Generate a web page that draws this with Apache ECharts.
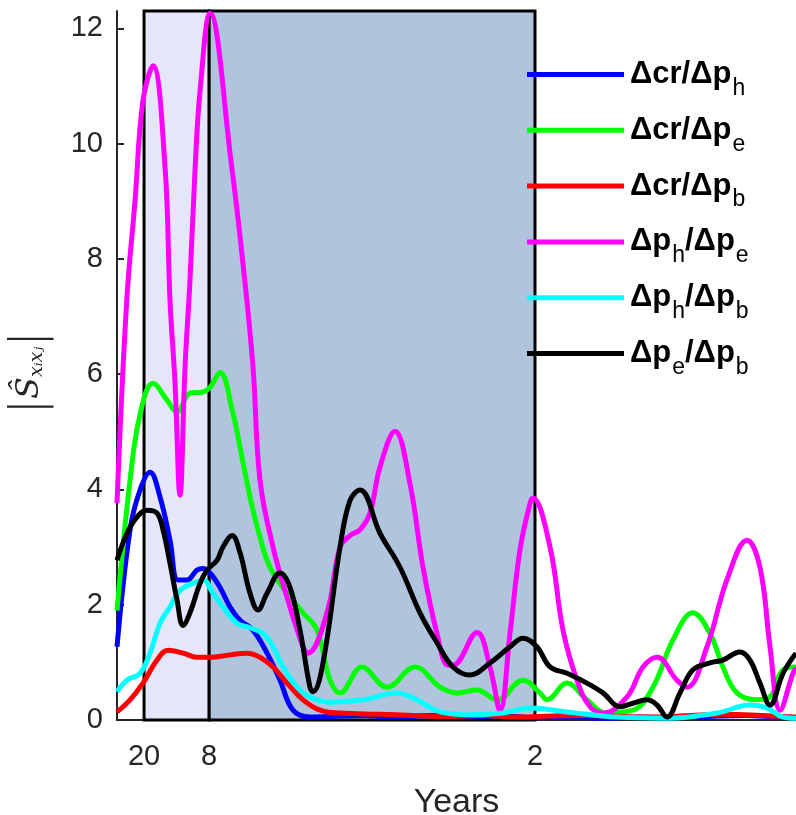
<!DOCTYPE html>
<html>
<head>
<meta charset="utf-8">
<script src="https://cdn.jsdelivr.net/npm/echarts@6/dist/echarts.min.js"></script>
<style>
html,body{margin:0;padding:0;background:#fff;}
#chart{width:796px;height:815px;}
</style>
</head>
<body>
<div id="chart"></div>
<script>
// x values: frequency in cycles per year; tick labels shown as periods (years)
const periods = [20, 8, 2];
const yTicks = [0, 2, 4, 6, 8, 10, 12];
const seriesNames = ['Δcr/Δp_h', 'Δcr/Δp_e', 'Δcr/Δp_b', 'Δp_h/Δp_e', 'Δp_h/Δp_b', 'Δp_e/Δp_b'];
const seriesColors = ['#0000FF', '#00FF00', '#FF0000', '#FF00FF', '#00FFFF', '#000000'];

const crPh = [[0.0189,1.27],[0.0339,3.3],[0.0454,3.99],[0.0569,4.3],[0.0684,3.87],[0.0799,3.12],[0.0891,2.43],[0.0995,2.43],[0.1110,2.6],[0.1179,2.63],[0.1260,2.55],[0.1375,2.3],[0.1490,1.96],[0.1605,1.73],[0.1754,1.56],[0.1916,1.16],[0.2065,0.69],[0.2215,0.17],[0.2410,0.05],[0.2641,0.06],[0.30,0.08],[0.34,0.05],[0.38,0.08],[0.42,0.05],[0.46,0.07],[0.50,0.04],[0.54,0.06],[0.58,0.03],[0.62,0.05],[0.66,0.04],[0.70,0.06],[0.74,0.08],[0.78,0.05],[0.8004,0.04]];

const crPe = [[0.0189,1.9],[0.0339,4.16],[0.0454,5.3],[0.0604,5.84],[0.0765,5.55],[0.0880,5.34],[0.1029,5.67],[0.1179,5.69],[0.1260,5.77],[0.1375,6.03],[0.1524,5.32],[0.1605,4.73],[0.1720,3.87],[0.1835,3.17],[0.1950,2.65],[0.2146,2.2],[0.2330,1.86],[0.2491,1.56],[0.2641,0.69],[0.2756,0.47],[0.3009,0.92],[0.3297,0.57],[0.3619,0.92],[0.3907,0.57],[0.4102,0.47],[0.4332,0.52],[0.4563,0.35],[0.4862,0.69],[0.5058,0.47],[0.5138,0.35],[0.5368,0.64],[0.5598,0.35],[0.5829,0.12],[0.6128,0.17],[0.6358,0.57],[0.6588,1.39],[0.6818,1.86],[0.7014,1.5],[0.7163,0.92],[0.7325,0.47],[0.7555,0.35],[0.7705,0.4],[0.7854,0.87],[0.8004,0.92]];

const crPb = [[0.0189,0.14],[0.0339,0.35],[0.0488,0.64],[0.0650,1.04],[0.0776,1.21],[0.0949,1.16],[0.1110,1.09],[0.1260,1.09],[0.1490,1.13],[0.1685,1.16],[0.1835,1.09],[0.1985,0.92],[0.2146,0.64],[0.2330,0.35],[0.2526,0.17],[0.2756,0.12],[0.32,0.1],[0.36,0.08],[0.40,0.06],[0.44,0.08],[0.48,0.05],[0.52,0.07],[0.56,0.08],[0.60,0.06],[0.64,0.05],[0.68,0.08],[0.72,0.1],[0.76,0.08],[0.8004,0.05]];

const phPe = [[0.0189,3.76],[0.0301,7.28],[0.0396,9.0],[0.0488,10.75],[0.0604,11.35],[0.0742,9.59],[0.0799,7.28],[0.0857,5.84],[0.0914,3.9],[0.0972,6.12],[0.1029,7.63],[0.1087,9.54],[0.1144,10.9],[0.1260,12.26],[0.1509,9.6],[0.1643,7.86],[0.1754,6.13],[0.1835,4.16],[0.1985,3.0],[0.2146,2.13],[0.2330,1.27],[0.2387,1.16],[0.2606,1.86],[0.2756,3.0],[0.2871,3.2],[0.2986,3.3],[0.3101,3.59],[0.3216,4.39],[0.3389,5.01],[0.3561,4.1],[0.3711,2.65],[0.3872,1.5],[0.3999,0.95],[0.4056,0.95],[0.4332,1.52],[0.4482,0.92],[0.4597,0.17],[0.4712,1.5],[0.4827,2.95],[0.4943,3.76],[0.4977,3.85],[0.5173,3.0],[0.5322,1.56],[0.5483,0.69],[0.5633,0.23],[0.5783,0.12],[0.6059,0.4],[0.6243,0.92],[0.6404,1.09],[0.6634,0.69],[0.6749,0.57],[0.6979,1.27],[0.7209,2.43],[0.7440,3.12],[0.7589,2.65],[0.7705,1.27],[0.7820,0.17],[0.7969,0.81],[0.8004,0.9]];

const phPb = [[0.0189,0.49],[0.0304,0.69],[0.0454,0.81],[0.0569,1.16],[0.0684,1.68],[0.0799,1.96],[0.0914,2.25],[0.1064,2.37],[0.1179,2.43],[0.1294,2.2],[0.1409,1.96],[0.1570,1.68],[0.1720,1.6],[0.1870,1.5],[0.1985,1.27],[0.2100,0.92],[0.2261,0.57],[0.2410,0.4],[0.2641,0.31],[0.3020,0.35],[0.3412,0.47],[0.3642,0.35],[0.3907,0.14],[0.4252,0.09],[0.4632,0.12],[0.4943,0.21],[0.5368,0.14],[0.5944,0.05],[0.6519,0.03],[0.7094,0.12],[0.7474,0.26],[0.7670,0.21],[0.7854,0.05],[0.8004,0.03]];

const pePb = [[0.0189,2.77],[0.0304,3.24],[0.0419,3.52],[0.0535,3.64],[0.0650,3.59],[0.0719,3.3],[0.0799,2.72],[0.0880,2.08],[0.0949,1.64],[0.1029,1.86],[0.1144,2.37],[0.1225,2.6],[0.1340,2.77],[0.1409,3.0],[0.1513,3.2],[0.1605,2.9],[0.1720,2.2],[0.1812,1.91],[0.1916,2.2],[0.2065,2.55],[0.2180,2.3],[0.2295,1.56],[0.2410,0.57],[0.2445,0.49],[0.2560,0.99],[0.2756,3.0],[0.2871,3.81],[0.2986,3.99],[0.3216,3.24],[0.3446,2.65],[0.3676,1.86],[0.3872,1.34],[0.4056,0.92],[0.4252,0.78],[0.4482,0.99],[0.4712,1.27],[0.4862,1.42],[0.5023,1.27],[0.5173,0.92],[0.5368,0.81],[0.5598,0.64],[0.5783,0.47],[0.5979,0.23],[0.6128,0.29],[0.6289,0.35],[0.6404,0.26],[0.6519,0.05],[0.6669,0.47],[0.6818,0.87],[0.7014,0.99],[0.7163,1.04],[0.7359,1.18],[0.7474,1.04],[0.7589,0.64],[0.7705,0.26],[0.7854,0.81],[0.8004,1.16]];

const seriesData = [crPh, crPe, crPb, phPe, phPb, pePb];

function toRich(name) {
  let out = '', buf = '';
  for (let i = 0; i < name.length; i++) {
    if (name[i] === '_') {
      if (buf) { out += '{a|' + buf + '}'; buf = ''; }
      out += '{s|' + name[i + 1] + '}';
      i++;
    } else buf += name[i];
  }
  if (buf) out += '{a|' + buf + '}';
  return out;
}

const chart = echarts.init(document.getElementById('chart'), null, {renderer: 'canvas'});
const axisColor = '#262626';
const font = 'Liberation Sans, Arial, Helvetica, sans-serif';

const series = seriesData.map((d, i) => ({
  name: seriesNames[i],
  type: 'line',
  data: d,
  smooth: 0.4,
  showSymbol: false,
  symbol: 'none',
  clip: true,
  z: 3,
  lineStyle: {color: seriesColors[i], width: 5},
  itemStyle: {color: seriesColors[i]}
}));

series.unshift({
  name: 'bands',
  type: 'line',
  data: [],
  z: 1,
  silent: true,
  markArea: {
    silent: true,
    itemStyle: {borderColor: '#000', borderWidth: 3},
    data: [
      [{xAxis: 1 / periods[0], itemStyle: {color: '#E6E6FA', borderColor: '#000', borderWidth: 3}}, {xAxis: 1 / periods[1]}],
      [{xAxis: 1 / periods[1], itemStyle: {color: '#B0C4DE', borderColor: '#000', borderWidth: 3}}, {xAxis: 1 / periods[2]}]
    ]
  }
});

chart.setOption({
  animation: false,
  backgroundColor: '#fff',
  grid: {left: 117, right: 0, top: 11, bottom: 95, containLabel: false, outerBoundsMode: 'none'},
  legend: {
    data: seriesNames,
    orient: 'vertical',
    left: 527,
    top: 59,
    padding: 0,
    icon: 'rect',
    itemWidth: 97,
    itemHeight: 5,
    itemGap: 14.8,
    formatter: toRich,
    textStyle: {
      padding: [0, 0, 0, 1],
      rich: {
        a: {fontSize: 31, fontWeight: 'bold', color: '#000', fontFamily: font},
        s: {fontSize: 23, color: '#000', fontFamily: font, padding: [28, 0, 0, 1]}
      }
    }
  },
  xAxis: {
    type: 'value',
    min: 0.0189,
    max: 0.8004,
    name: 'Years',
    nameLocation: 'middle',
    nameGap: 66,
    nameTextStyle: {fontSize: 34, color: axisColor, fontFamily: font},
    splitLine: {show: false},
    axisLine: {show: true, lineStyle: {color: axisColor, width: 2}},
    axisTick: {show: false},
    axisLabel: {
      customValues: periods.map(p => 1 / p),
      formatter: v => String(Math.round(1 / v)),
      fontSize: 29, color: axisColor, fontFamily: font, margin: 22
    }
  },
  yAxis: {
    type: 'value',
    min: 0,
    max: 12.3,
    name: '{bar||}{s|Ŝ}{sub|xᵢxⱼ}{bar|| }',
    nameLocation: 'middle',
    nameGap: 64,
    nameRotate: 90,
    nameTextStyle: {
      color: axisColor,
      rich: {
        bar: {fontSize: 46, color: axisColor, fontFamily: 'DejaVu Sans', fontWeight: 'lighter'},
        s: {fontSize: 32, color: axisColor, fontFamily: 'DejaVu Serif', fontStyle: 'italic'},
        sub: {fontSize: 19, color: axisColor, fontFamily: 'DejaVu Serif', fontStyle: 'italic', padding: [14, 0, 0, 0]}
      }
    },
    splitLine: {show: false},
    axisLine: {show: true, lineStyle: {color: axisColor, width: 2}},
    axisTick: {show: true, inside: true, length: 7, customValues: yTicks, lineStyle: {color: axisColor, width: 2}},
    axisLabel: {customValues: yTicks, fontSize: 29, color: axisColor, fontFamily: font, margin: 14}
  },
  series: series
});
</script>
</body>
</html>
